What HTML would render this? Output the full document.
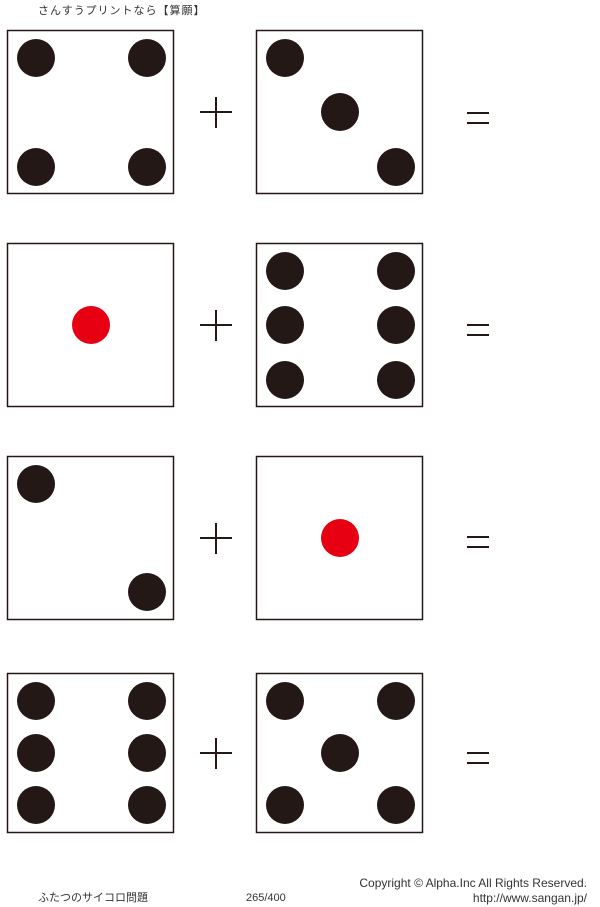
<!DOCTYPE html>
<html><head><meta charset="utf-8"><style>
body{margin:0;width:600px;height:907px;background:#fff;overflow:hidden}
svg{position:absolute;left:0;top:0}
</style></head><body>
<svg width="600" height="907" viewBox="0 0 600 907" font-family="Liberation Sans, Noto Sans CJK JP, sans-serif">
<text x="38" y="14" font-size="11" fill="#333" letter-spacing="1">さんすうプリントなら【算願】</text>
<g fill="none" stroke="#231815" stroke-width="1.5">
<rect x="7.5" y="30.5" width="166" height="163"/>
<rect x="256.5" y="30.5" width="166" height="163"/>
<rect x="7.5" y="243.5" width="166" height="163"/>
<rect x="256.5" y="243.5" width="166" height="163"/>
<rect x="7.5" y="456.5" width="166" height="163"/>
<rect x="256.5" y="456.5" width="166" height="163"/>
<rect x="7.5" y="673.5" width="166" height="159"/>
<rect x="256.5" y="673.5" width="166" height="159"/>
</g>
<g fill="#231815">
<circle cx="36" cy="58" r="19"/><circle cx="147" cy="58" r="19"/><circle cx="36" cy="167" r="19"/><circle cx="147" cy="167" r="19"/>
<circle cx="285" cy="58" r="19"/><circle cx="340" cy="112" r="19"/><circle cx="396" cy="167" r="19"/>
<circle cx="285" cy="271" r="19"/><circle cx="396" cy="271" r="19"/><circle cx="285" cy="325" r="19"/><circle cx="396" cy="325" r="19"/><circle cx="285" cy="380" r="19"/><circle cx="396" cy="380" r="19"/>
<circle cx="36" cy="484" r="19"/><circle cx="147" cy="592" r="19"/>
<circle cx="36" cy="701" r="19"/><circle cx="147" cy="701" r="19"/><circle cx="36" cy="753" r="19"/><circle cx="147" cy="753" r="19"/><circle cx="36" cy="805" r="19"/><circle cx="147" cy="805" r="19"/>
<circle cx="285" cy="701" r="19"/><circle cx="396" cy="701" r="19"/><circle cx="340" cy="753" r="19"/><circle cx="285" cy="805" r="19"/><circle cx="396" cy="805" r="19"/>
</g>
<g fill="#e60012">
<circle cx="91" cy="325" r="19"/><circle cx="340" cy="538" r="19"/>
</g>
<g stroke="#231815" stroke-width="2" fill="none">
<path d="M200 112H232M216 97V128"/>
<path d="M200 325H232M216 310V341"/>
<path d="M200 538H232M216 523V554"/>
<path d="M200 753H232M216 738V769"/>
<path d="M467 113H489M467 123H489"/>
<path d="M467 325H489M467 335H489"/>
<path d="M467 537H489M467 547H489"/>
<path d="M467 753H489M467 763H489"/>
</g>
<text x="38" y="901" font-size="11" fill="#333">ふたつのサイコロ問題</text>
<text x="246" y="901" font-size="11" fill="#333">265/400</text>
<text x="587" y="887" font-size="12" fill="#333" text-anchor="end">Copyright ©  Alpha.Inc All Rights Reserved.</text>
<text x="587" y="902" font-size="12" fill="#333" text-anchor="end">http://www.sangan.jp/</text>
</svg>
</body></html>
